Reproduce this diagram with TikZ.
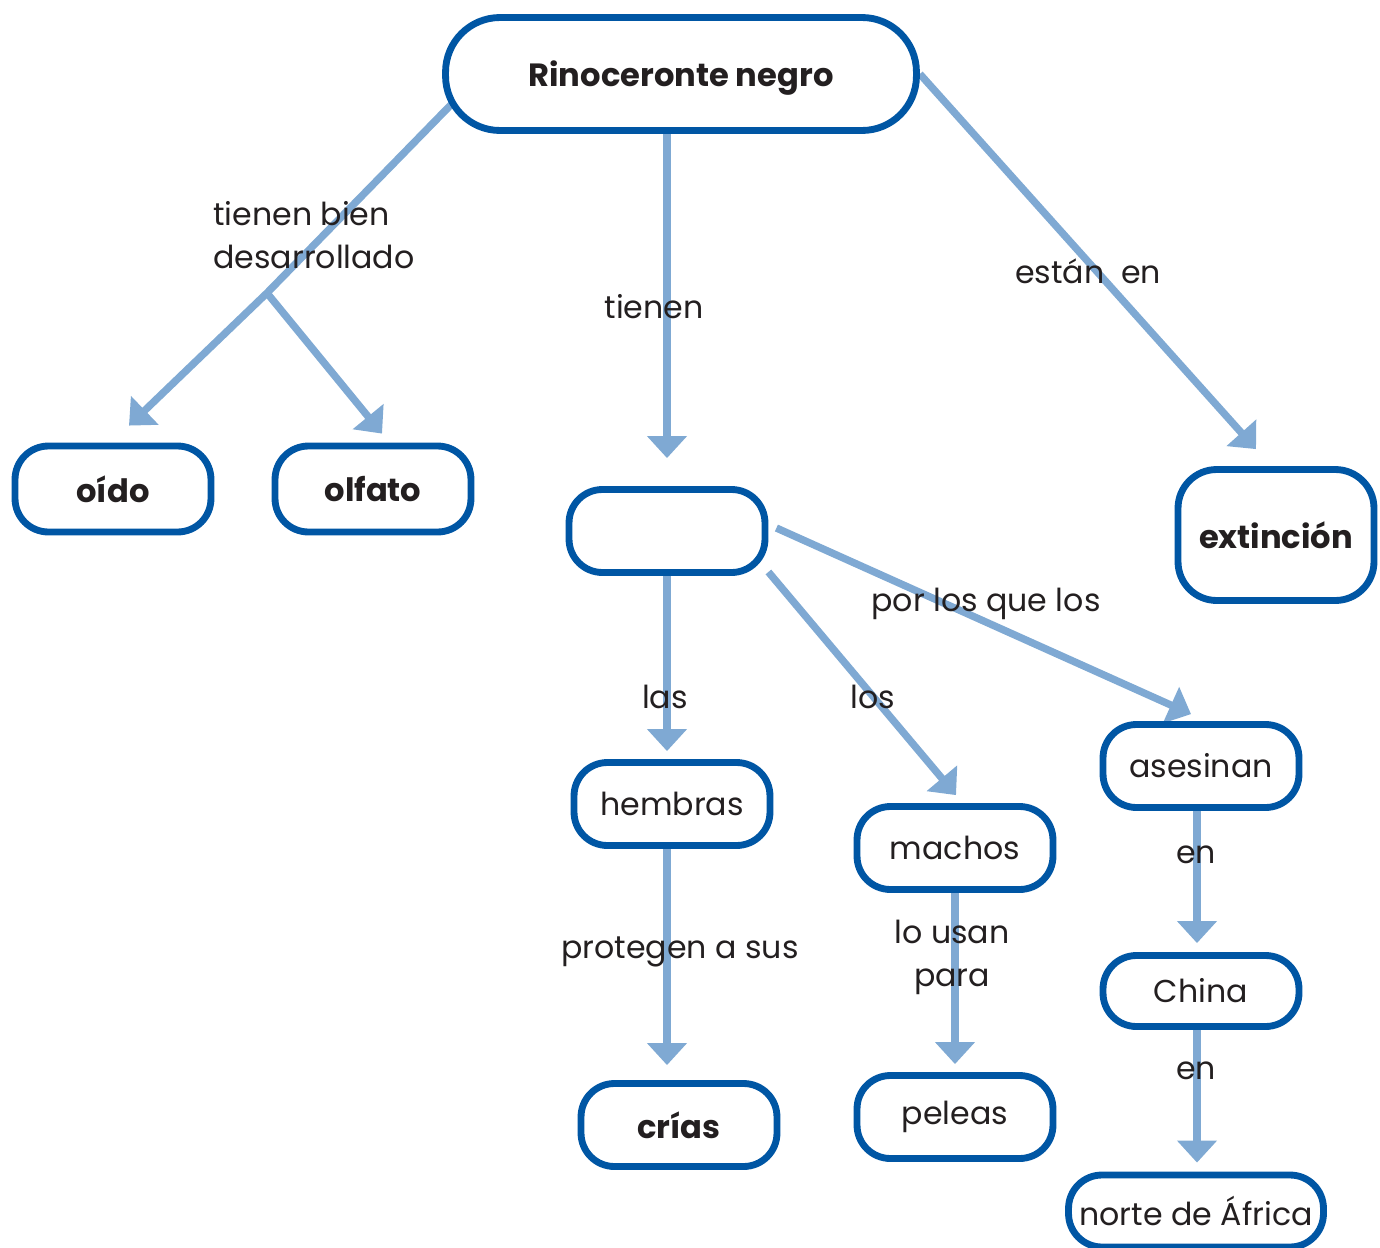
\documentclass[tikz,border=0pt]{standalone}
\usepackage{fontspec}
\setmainfont{Poppins}
\usetikzlibrary{arrows.meta,calc,backgrounds}
\definecolor{boxblue}{HTML}{0056A4}
\definecolor{linkblue}{HTML}{7FA9D3}
\definecolor{ink}{HTML}{231F20}

\begin{document}
\begin{tikzpicture}[x=0.02cm, y=-0.02cm, every node/.style={text=ink},
	box/.style={draw=boxblue, line width=3.9pt, fill=white, rounded corners=19pt, minimum width=3.92cm, minimum height=1.66cm, inner sep=0pt, font=\fontsize{18}{22}\selectfont},
	key/.style={box, text depth=0pt, font=\fontsize{18.3}{22}\selectfont\bfseries},
	link/.style={draw=linkblue, line width=4.2pt, -{Triangle[width=22pt,length=12.5pt]}},
	lbl/.style={font=\fontsize{18}{24.4}\selectfont, align=center, inner sep=0pt}]
	\useasboundingbox (0,0) rectangle (1380,1248);
	% concepts
	\node[key, minimum width=9.42cm, minimum height=2.26cm, rounded corners=31pt] (rino) at (681,74) {Rinoceronte negro};
	\node[key, minimum height=1.72cm] (oido) at (113,489) {oído};
	\node[key, minimum height=1.72cm] (olfato) at (373,489) {olfato};
	\node[box] (hueco) at (667,531) {};
	\node[key, minimum height=2.62cm, rounded corners=22pt] (extincion) at (1276,535) {extinción};
	\node[box] (hembras) at (672,804) {hembras};
	\node[box] (machos) at (955,848) {machos};
	\node[box] (asesinan) at (1201,766) {asesinan};
	\node[box, minimum height=1.42cm] (china) at (1201,991) {China};
	\node[key] (crias) at (679,1125) {crías};
	\node[box] (peleas) at (955,1117) {peleas};
	\node[box, minimum width=5.1cm, minimum height=1.44cm] (africa) at (1196,1211) {norte de África};
	% links
	\begin{scope}[on background layer]
		\coordinate (fork) at (267,293);
		\draw[link] ($(rino.center)+(-200,0)$) -- (fork) -- ($(oido.north)+(16,-17)$);
		\draw[link] (fork) -- ($(olfato.north)+(9,-9)$);
		\draw[link] (rino.south -| hueco.north) -- ($(hueco.north)+(0,-28)$);
		\draw[link] (rino.east) -- ($(extincion.north)+(-20,-17)$);
		\draw[link] (hueco.south) -- ($(hueco.south |- hembras.north)+(0,-8)$);
		\draw[link] (hueco.-22) -- ($(machos.north)+(1,-8)$);
		\draw[link] ($(hueco.east)+(8,-3)$) -- ($(asesinan.north)+(-10,-7)$);
		\draw[link] (hembras.south -| hueco.south) -- ($(crias.north -| hueco.south)+(0,-15)$);
		\draw[link] (machos.south) -- ($(machos.south |- peleas.north)+(0,-8)$);
		\draw[link] ($(asesinan.south)+(-4,0)$) -- ($(china.north)+(-4,-9)$);
		\draw[link] ($(china.south)+(-4,0)$) -- ($(china.south |- africa.north)+(-4,-9)$);
	\end{scope}
	% link words
	\node[lbl, align=left, anchor=west] (l1) at (213,235) {tienen bien\\desarrollado};
	\node[lbl] (l2) at (654,307) {tienen};
	\node[lbl] (l3) at (1088,271) {están\ \ en};
	\node[lbl] (l4) at (986,604) {por los que los};
	\node[lbl] (l5) at (665,697) {las};
	\node[lbl] (l6) at (873,697) {los};
	\node[lbl] (l7) at (1196,855) {en};
	\node[lbl] (l8) at (680,952) {protegen a sus};
	\node[lbl] (l9) at (952,957) {lo usan\\para};
	\node[lbl] (l10) at (1196,1071) {en};
\end{tikzpicture}
\end{document}
